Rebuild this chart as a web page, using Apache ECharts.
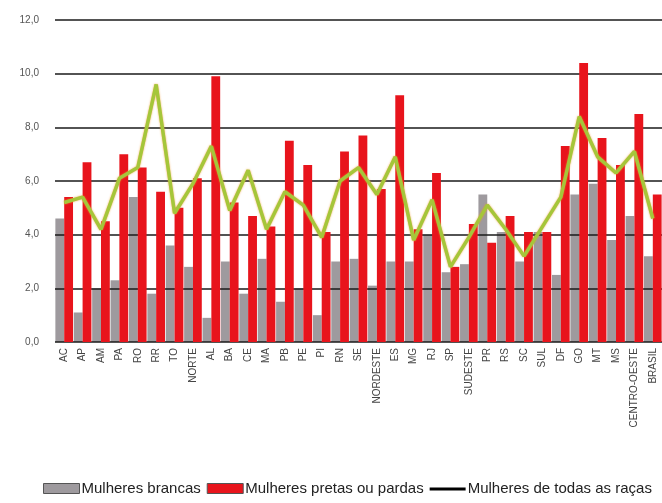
<!DOCTYPE html>
<html>
<head>
<meta charset="utf-8">
<script src="https://cdn.jsdelivr.net/npm/echarts@6/dist/echarts.min.js"></script>
<style>
  html, body { margin: 0; padding: 0; background: #fff; }
  #chart { width: 662px; height: 503px; }
</style>
</head>
<body>
<div id="chart"></div>
<script>
// categorias (UF e regiões)
var categorias = ['AC','AP','AM','PA','RO','RR','TO','NORTE','AL','BA','CE','MA','PB','PE','PI','RN','SE','NORDESTE','ES','MG','RJ','SP','SUDESTE','PR','RS','SC','SUL','DF','GO','MT','MS','CENTRO-OESTE','BRASIL'];
var brancas = [4.6,1.1,2.0,2.3,5.4,1.8,3.6,2.8,0.9,3.0,1.8,3.1,1.5,2.0,1.0,3.0,3.1,2.1,3.0,3.0,4.0,2.6,2.9,5.5,4.1,3.0,4.1,2.5,5.5,5.9,3.8,4.7,3.2];
var pretasPardas = [5.4,6.7,4.5,7.0,6.5,5.6,5.0,6.1,9.9,5.2,4.7,4.3,7.5,6.6,4.1,7.1,7.7,5.7,9.2,4.2,6.3,2.8,4.4,3.7,4.7,4.1,4.1,7.3,10.4,7.6,6.6,8.5,5.5];
var todasRacas = [5.2,5.4,4.2,6.1,6.5,9.6,4.8,5.9,7.3,4.9,6.4,4.2,5.6,5.1,3.9,6.0,6.5,5.5,6.9,3.8,5.3,2.8,3.9,5.1,4.2,3.2,4.3,5.4,8.4,6.9,6.3,7.1,4.6];

var nomes = ['Mulheres brancas', 'Mulheres pretas ou pardas', 'Mulheres de todas as raças'];

var myChart = echarts.init(document.getElementById('chart'));
var option = {
  animation: false,
  textStyle: { fontFamily: 'Liberation Sans, Arial, sans-serif' },
  grid: { left: 55, right: -3, top: 20, bottom: 161 },
  legend: {
    bottom: 2,
    left: 38,
    itemWidth: 36,
    itemHeight: 10,
    itemGap: 6,
    textStyle: { fontSize: 15, color: '#222', padding: [0, 0, 0, -3] },
    data: [
      { name: nomes[0], icon: 'rect', itemStyle: { color: '#9e9a9e', borderColor: '#555', borderWidth: 1 } },
      { name: nomes[1], icon: 'rect', itemStyle: { color: '#e8141c', borderColor: '#555', borderWidth: 1 } },
      { name: nomes[2], icon: 'path://M0,0h1v0.01h-1z M0,4h36v3h-36z M0,10h1v0.01h-1z',
        itemStyle: { color: '#000' }, lineStyle: { color: '#000' } }
    ]
  },
  xAxis: {
    type: 'category',
    data: categorias,
    axisLine: { show: false },
    axisTick: { show: false },
    axisLabel: { rotate: 90, interval: 0, fontSize: 10, color: '#444', margin: 6 }
  },
  yAxis: {
    type: 'value',
    min: 0,
    max: 12,
    interval: 2,
    z: 1,
    axisLine: { show: false },
    axisTick: { show: false },
    axisLabel: {
      fontSize: 10, color: '#555', margin: 16,
      formatter: function (v) { return v.toFixed(1).replace('.', ','); }
    },
    splitLine: { lineStyle: { color: '#1a1a1a', width: 1.5 } }
  },
  series: [
    {
      name: nomes[0],
      type: 'bar',
      z: 0,
      barGap: '0%',
      barCategoryGap: '4%',
      itemStyle: { color: '#9e9a9e' },
      data: brancas
    },
    {
      name: nomes[1],
      type: 'bar',
      z: 2,
      itemStyle: { color: '#e8141c' },
      data: pretasPardas
    },
    {
      name: nomes[2],
      type: 'line',
      z: 3,
      symbol: 'none',
      itemStyle: { color: '#a5c63a' },
      lineStyle: { color: '#a5c63a', width: 3.5, shadowColor: 'rgba(240,150,40,0.8)', shadowBlur: 2 },
      data: todasRacas
    }
  ]
};
myChart.setOption(option);
</script>
</body>
</html>
